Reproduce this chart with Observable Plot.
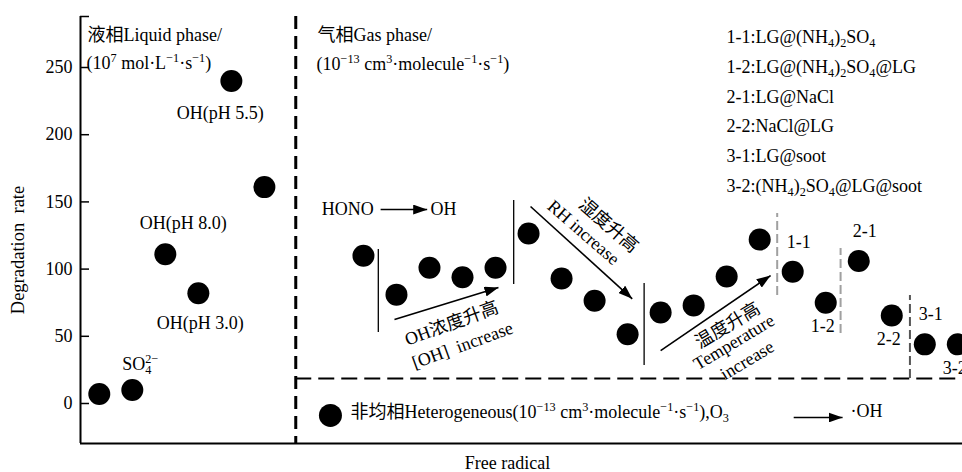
<!DOCTYPE html>
<html><head><meta charset="utf-8">
<script src="https://cdn.jsdelivr.net/npm/d3@7"></script>
<script src="https://cdn.jsdelivr.net/npm/@observablehq/plot@0.6"></script>
<style>
body{margin:0;background:#fff}
#chart svg{font-family:"Liberation Serif","Times New Roman","Noto Sans CJK SC",serif}
</style>
</head><body><div id="chart"></div>
<script>
// ---------- data ----------
const liquidX = [0, 1, 2, 3, 4, 5];
const liquidRate = [7, 10, 111, 82, 240, 161];
const liquidLabels = ["", "SO_{4}^{2−}", "OH(pH 8.0)", "OH(pH 3.0)", "OH(pH 5.5)", ""];

const gasX = [8, 9, 10, 11, 12, 13, 14, 15, 16, 17, 18, 19, 20];
const gasRate = [110, 81, 101, 94, 101, 126.5, 93, 76.5, 51.5, 67.7, 73, 94.5, 122];

const hetX = [21, 22, 23, 24, 25, 26];
const hetRate = [98, 75, 106, 65.5, 44, 44];
const hetLabels = ["1-1", "1-2", "2-1", "2-2", "3-1", "3-2"];

const yTicks = [0, 50, 100, 150, 200, 250];

const legendEntries = [
  "1-1:LG@(NH_{4})_{2}SO_{4}",
  "1-2:LG@(NH_{4})_{2}SO_{4}@LG",
  "2-1:LG@NaCl",
  "2-2:NaCl@LG",
  "3-1:LG@soot",
  "3-2:(NH_{4})_{2}SO_{4}@LG@soot"
];

// annotation separators (x position in category units, y extent in rate units)
const sepX = [8.45, 12.55, 16.5, 20.53, 22.45, 24.55];
const sepTop = [114.6, 151, 89.3, 141.4, 115.3, 80.4];
const sepBottom = [52.8, 88.5, 28.3, 80.4, 52, 18.6];
const sepKind = ["solid", "solid", "solid", "gray", "gray", "dark"];

// trend arrows
const arrowNames = ["hono", "oh", "rh", "temp", "legend"];
const arrowX1 = [8.52, 8.94, 13.06, 17.0, 21.03];
const arrowY1 = [144.3, 62.5, 146.6, 39.4, -10.4];
const arrowX2 = [9.93, 12.09, 16.14, 20.33, 22.51];
const arrowY2 = [144.3, 86.3, 77.9, 95.2, -10.4];

const phaseBoundaryX = 5.95;
const hetBoundaryY = 18.6;

const xDomain = [-0.569, 26.142];
const yDomain = [-29.76, 287.95];

// ---------- build tables ----------
const liquid = liquidX.map((x, i) => ({x, rate: liquidRate[i], label: liquidLabels[i]}));
const gas = gasX.map((x, i) => ({x, rate: gasRate[i]}));
const het = hetX.map((x, i) => ({x, rate: hetRate[i], label: hetLabels[i]}));
const seps = sepX.map((x, i) => ({x, y1: sepBottom[i], y2: sepTop[i], kind: sepKind[i]}));
const arrows = arrowNames.map((n, i) => ({n, x1: arrowX1[i], y1: arrowY1[i], x2: arrowX2[i], y2: arrowY2[i]}));

const arrowHead = (color, context) => {
  const doc = (context && context.document) || document;
  const ns = "http://www.w3.org/2000/svg";
  const m = doc.createElementNS(ns, "marker");
  m.setAttribute("viewBox", "-14 -5 14 10");
  m.setAttribute("markerWidth", 14);
  m.setAttribute("markerHeight", 10);
  m.setAttribute("markerUnits", "userSpaceOnUse");
  m.setAttribute("orient", "auto");
  m.setAttribute("refX", 0);
  m.setAttribute("refY", 0);
  const p = doc.createElementNS(ns, "path");
  p.setAttribute("d", "M-14,-5L0,0L-14,5Z");
  p.setAttribute("fill", "black");
  p.setAttribute("stroke", "none");
  m.appendChild(p);
  return m;
};

const FS = 18;
const txt = {fontSize: FS, fill: "black"};
const ftxt = {...txt, lineAnchor: "middle", textAnchor: "start"};
const lab = (name) => liquid.filter(d => d.label === name);

const marks = [
  // axes
  Plot.ruleX([xDomain[0]], {stroke: "black", strokeWidth: 2}),
  Plot.ruleY([yDomain[0]], {stroke: "black", strokeWidth: 2}),
  Plot.axisY({ticks: [...yTicks, yDomain[1]], tickFormat: d => yTicks.includes(d) ? d : "", tickSize: -9, tickPadding: 17, fontSize: FS, stroke: "black", strokeWidth: 1.5, label: null}),
  Plot.text(["Degradation\u00A0\u00A0rate"], {frameAnchor: "left", dx: -62, dy: 20, rotate: -90, textAnchor: "middle", lineAnchor: "middle", ...txt, fontSize: 18.5}),
  Plot.text(["Free radical"], {frameAnchor: "bottom", dx: -14, dy: 20, textAnchor: "middle", lineAnchor: "middle", ...txt}),

  // phase boundaries
  Plot.ruleX([phaseBoundaryX], {stroke: "black", strokeWidth: 3, strokeDasharray: "13,7"}),
  Plot.ruleY([hetBoundaryY], {x1: phaseBoundaryX, x2: xDomain[1], stroke: "black", strokeWidth: 2, strokeDasharray: "16,7"}),

  // separators
  Plot.ruleX(seps.filter(d => d.kind === "solid"), {x: "x", y1: "y1", y2: "y2", stroke: "black", strokeWidth: 1.3}),
  Plot.ruleX(seps.filter(d => d.kind === "gray"), {x: "x", y1: "y1", y2: "y2", stroke: "#a0a0a0", strokeWidth: 2, strokeDasharray: "9,4"}),
  Plot.ruleX(seps.filter(d => d.kind === "dark"), {x: "x", y1: "y1", y2: "y2", stroke: "#555", strokeWidth: 2, strokeDasharray: "9,4"}),

  // arrows
  Plot.link(arrows, {x1: "x1", y1: "y1", x2: "x2", y2: "y2", stroke: "black", strokeWidth: 1.6, markerEnd: arrowHead}),

  // dots
  Plot.dot(liquid, {x: "x", y: "rate", r: 11, fill: "black"}),
  Plot.dot(gas, {x: "x", y: "rate", r: 11, fill: "black"}),
  Plot.dot(het, {x: "x", y: "rate", r: 11, fill: "black"}),

  // liquid labels
  Plot.text(lab("OH(pH 5.5)"), {x: "x", y: "rate", text: "label", dx: -11, dy: 32, ...txt}),
  Plot.text(lab("OH(pH 8.0)"), {x: "x", y: "rate", text: "label", dx: 18, dy: -31, ...txt}),
  Plot.text(lab("OH(pH 3.0)"), {x: "x", y: "rate", text: "label", dx: 2, dy: 30, ...txt}),
  Plot.text(lab("SO_{4}^{2−}"), {x: "x", y: "rate", text: "label", dx: -10, dy: -26, textAnchor: "start", ...txt}),

  // het labels
  Plot.text(het.filter((d, i) => i % 2 === 0), {x: "x", y: "rate", text: "label", dx: 6, dy: -30, ...txt}),
  Plot.text(het.filter((d, i) => i % 2 === 1), {x: "x", y: "rate", text: "label", dx: -3, dy: 24, ...txt}),

  // phase titles
  Plot.text(["液相Liquid phase/"], {frameAnchor: "top-left", dx: 7, dy: 19, ...ftxt}),
  Plot.text(["(10^{7} mol·L^{−1}·s^{−1})"], {frameAnchor: "top-left", dx: 6, dy: 47, ...ftxt}),
  Plot.text(["气相Gas phase/"], {frameAnchor: "top-left", dx: 237, dy: 19, ...ftxt}),
  Plot.text(["(10^{−13} cm^{3}·molecule^{−1}·s^{−1})"], {frameAnchor: "top-left", dx: 236, dy: 48, ...ftxt}),

  // arrow texts
  Plot.text(["HONO"], {x: 8.31, y: 144.3, textAnchor: "end", ...txt}),
  Plot.text(["OH"], {x: 10.03, y: 144.3, textAnchor: "start", ...txt}),
  Plot.text(["OH浓度升高"], {x: 10.67, y: 59.5, rotate: -20, ...txt}),
  Plot.text(["[OH]\u00A0\u00A0increase"], {x: 11.0, y: 43.2, rotate: -20, ...txt}),
  Plot.text(["湿度升高"], {x: 15.42, y: 132.4, rotate: 41, ...txt}),
  Plot.text(["RH increase"], {x: 14.66, y: 127.2, rotate: 41, ...txt}),
  Plot.text(["温度升高"], {x: 19.03, y: 58, rotate: -31, ...txt}),
  Plot.text(["Temperature"], {x: 19.22, y: 45.6, rotate: -31, ...txt}),
  Plot.text(["increase"], {x: 19.62, y: 32, rotate: -31, ...txt}),

  // bottom legend
  Plot.dot([0], {x: 7.0, y: -8.9, r: 11.5, fill: "black"}),
  Plot.text(["非均相Heterogeneous(10^{−13} cm^{3}·molecule^{−1}·s^{−1}),O_{3}"], {x: 7.61, y: -6.7, textAnchor: "start", ...txt}),
  Plot.text(["·OH"], {x: 22.75, y: -6, textAnchor: "start", ...txt}),

  // legend list
  ...legendEntries.map((t, k) => Plot.text([t], {frameAnchor: "top-left", dx: 646, dy: 21 + k * 29.7, ...ftxt}))
];

const chart = Plot.plot({
  width: 962,
  height: 472,
  marginLeft: 80,
  marginRight: 0,
  marginTop: 16,
  marginBottom: 29,
  style: {background: "white", color: "black", fontSize: "18px"},
  x: {domain: xDomain, axis: null},
  y: {domain: yDomain, axis: null},
  marks
});
document.getElementById("chart").appendChild(chart);

// ---------- rich text: ^{sup} and _{sub} ----------
const NS = "http://www.w3.org/2000/svg";
chart.querySelectorAll("text").forEach(el => {
  const s = el.textContent;
  if (!/[\^_]\{/.test(s)) return;
  const fs = parseFloat(el.getAttribute("font-size")) || parseFloat(getComputedStyle(el).fontSize) || 18;
  const re = /([\^_])\{([^}]*)\}/g;
  const parts = [];
  let last = 0, m;
  while ((m = re.exec(s))) {
    if (m.index > last) parts.push({t: s.slice(last, m.index), k: 0});
    parts.push({t: m[2], k: m[1] === "^" ? 1 : -1});
    last = re.lastIndex;
  }
  if (last < s.length) parts.push({t: s.slice(last), k: 0});
  while (el.firstChild) el.removeChild(el.firstChild);
  let cur = 0;
  parts.forEach((p) => {
    const ts = document.createElementNS(NS, "tspan");
    const target = p.k === 1 ? fs * 0.38 : p.k === -1 ? -fs * 0.22 : 0;
    const dy = cur - target;
    cur = target;
    if (dy) ts.setAttribute("dy", dy);
    if (p.k) ts.setAttribute("font-size", fs * 0.68);
    ts.textContent = p.t;
    el.appendChild(ts);
  });
});
// stacked sub/sup for SO4^2-
chart.querySelectorAll("text").forEach(el => {
  const ts = el.querySelectorAll("tspan");
  if (ts.length === 3 && ts[0].textContent === "SO") {
    ts[2].setAttribute("dx", -ts[1].getComputedTextLength());
  }
});
</script>
</body></html>
